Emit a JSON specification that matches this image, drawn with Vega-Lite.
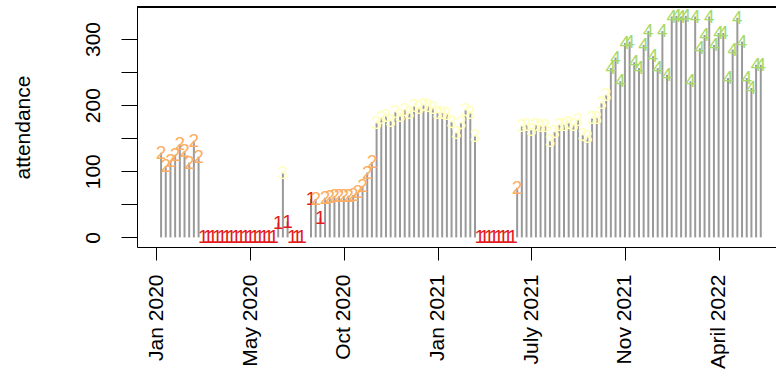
{
  "$schema": "https://vega.github.io/schema/vega-lite/v6.json",
  "width": 639,
  "height": 240,
  "autosize": {"type": "none"},
  "padding": {"left": 137, "top": 7, "right": 0, "bottom": 126},
  "background": "white",
  "config": {"view": {"stroke": null}, "font": "Liberation Sans"},
  "data": {
    "values": [
      {"idx": 1, "value": 128, "cat": "2"},
      {"idx": 2, "value": 108, "cat": "2"},
      {"idx": 3, "value": 116, "cat": "2"},
      {"idx": 4, "value": 125, "cat": "2"},
      {"idx": 5, "value": 141, "cat": "2"},
      {"idx": 6, "value": 130, "cat": "2"},
      {"idx": 7, "value": 113, "cat": "2"},
      {"idx": 8, "value": 146, "cat": "2"},
      {"idx": 9, "value": 122, "cat": "2"},
      {"idx": 10, "value": 0, "cat": "1"},
      {"idx": 11, "value": 0, "cat": "1"},
      {"idx": 12, "value": 0, "cat": "1"},
      {"idx": 13, "value": 0, "cat": "1"},
      {"idx": 14, "value": 0, "cat": "1"},
      {"idx": 15, "value": 0, "cat": "1"},
      {"idx": 16, "value": 0, "cat": "1"},
      {"idx": 17, "value": 0, "cat": "1"},
      {"idx": 18, "value": 0, "cat": "1"},
      {"idx": 19, "value": 0, "cat": "1"},
      {"idx": 20, "value": 0, "cat": "1"},
      {"idx": 21, "value": 0, "cat": "1"},
      {"idx": 22, "value": 0, "cat": "1"},
      {"idx": 23, "value": 0, "cat": "1"},
      {"idx": 24, "value": 0, "cat": "1"},
      {"idx": 25, "value": 0, "cat": "1"},
      {"idx": 26, "value": 22, "cat": "1"},
      {"idx": 27, "value": 97, "cat": "3"},
      {"idx": 28, "value": 24, "cat": "1"},
      {"idx": 29, "value": 0, "cat": "1"},
      {"idx": 30, "value": 0, "cat": "1"},
      {"idx": 31, "value": 0, "cat": "1"},
      {"idx": 33, "value": 58, "cat": "1"},
      {"idx": 34, "value": 58, "cat": "2"},
      {"idx": 35, "value": 30, "cat": "1"},
      {"idx": 36, "value": 60, "cat": "2"},
      {"idx": 37, "value": 61, "cat": "2"},
      {"idx": 38, "value": 62, "cat": "2"},
      {"idx": 39, "value": 62, "cat": "2"},
      {"idx": 40, "value": 63, "cat": "2"},
      {"idx": 41, "value": 63, "cat": "2"},
      {"idx": 42, "value": 64, "cat": "2"},
      {"idx": 43, "value": 68, "cat": "2"},
      {"idx": 44, "value": 78, "cat": "2"},
      {"idx": 45, "value": 98, "cat": "2"},
      {"idx": 46, "value": 114, "cat": "2"},
      {"idx": 47, "value": 173, "cat": "3"},
      {"idx": 48, "value": 180, "cat": "3"},
      {"idx": 49, "value": 183, "cat": "3"},
      {"idx": 50, "value": 176, "cat": "3"},
      {"idx": 51, "value": 190, "cat": "3"},
      {"idx": 52, "value": 183, "cat": "3"},
      {"idx": 53, "value": 193, "cat": "3"},
      {"idx": 54, "value": 188, "cat": "3"},
      {"idx": 55, "value": 198, "cat": "3"},
      {"idx": 56, "value": 196, "cat": "3"},
      {"idx": 57, "value": 200, "cat": "3"},
      {"idx": 58, "value": 198, "cat": "3"},
      {"idx": 59, "value": 196, "cat": "3"},
      {"idx": 60, "value": 188, "cat": "3"},
      {"idx": 61, "value": 188, "cat": "3"},
      {"idx": 62, "value": 186, "cat": "3"},
      {"idx": 63, "value": 175, "cat": "3"},
      {"idx": 64, "value": 158, "cat": "3"},
      {"idx": 65, "value": 173, "cat": "3"},
      {"idx": 66, "value": 193, "cat": "3"},
      {"idx": 67, "value": 188, "cat": "3"},
      {"idx": 68, "value": 153, "cat": "3"},
      {"idx": 69, "value": 0, "cat": "1"},
      {"idx": 70, "value": 0, "cat": "1"},
      {"idx": 71, "value": 0, "cat": "1"},
      {"idx": 72, "value": 0, "cat": "1"},
      {"idx": 73, "value": 0, "cat": "1"},
      {"idx": 74, "value": 0, "cat": "1"},
      {"idx": 75, "value": 0, "cat": "1"},
      {"idx": 76, "value": 0, "cat": "1"},
      {"idx": 77, "value": 75, "cat": "2"},
      {"idx": 78, "value": 168, "cat": "3"},
      {"idx": 79, "value": 170, "cat": "3"},
      {"idx": 80, "value": 163, "cat": "3"},
      {"idx": 81, "value": 170, "cat": "3"},
      {"idx": 82, "value": 168, "cat": "3"},
      {"idx": 83, "value": 168, "cat": "3"},
      {"idx": 84, "value": 146, "cat": "3"},
      {"idx": 85, "value": 160, "cat": "3"},
      {"idx": 86, "value": 170, "cat": "3"},
      {"idx": 87, "value": 170, "cat": "3"},
      {"idx": 88, "value": 173, "cat": "3"},
      {"idx": 89, "value": 170, "cat": "3"},
      {"idx": 90, "value": 178, "cat": "3"},
      {"idx": 91, "value": 155, "cat": "3"},
      {"idx": 92, "value": 152, "cat": "3"},
      {"idx": 93, "value": 180, "cat": "3"},
      {"idx": 94, "value": 181, "cat": "3"},
      {"idx": 95, "value": 203, "cat": "3"},
      {"idx": 96, "value": 215, "cat": "3"},
      {"idx": 97, "value": 256, "cat": "4"},
      {"idx": 98, "value": 272, "cat": "4"},
      {"idx": 99, "value": 236, "cat": "4"},
      {"idx": 100, "value": 294, "cat": "4"},
      {"idx": 101, "value": 296, "cat": "4"},
      {"idx": 102, "value": 265, "cat": "4"},
      {"idx": 103, "value": 256, "cat": "4"},
      {"idx": 104, "value": 291, "cat": "4"},
      {"idx": 105, "value": 312, "cat": "4"},
      {"idx": 106, "value": 274, "cat": "4"},
      {"idx": 107, "value": 256, "cat": "4"},
      {"idx": 108, "value": 312, "cat": "4"},
      {"idx": 109, "value": 246, "cat": "4"},
      {"idx": 110, "value": 334, "cat": "4"},
      {"idx": 111, "value": 335, "cat": "4"},
      {"idx": 112, "value": 334, "cat": "4"},
      {"idx": 113, "value": 335, "cat": "4"},
      {"idx": 114, "value": 236, "cat": "4"},
      {"idx": 115, "value": 334, "cat": "4"},
      {"idx": 116, "value": 286, "cat": "4"},
      {"idx": 117, "value": 306, "cat": "4"},
      {"idx": 118, "value": 334, "cat": "4"},
      {"idx": 119, "value": 291, "cat": "4"},
      {"idx": 120, "value": 309, "cat": "4"},
      {"idx": 121, "value": 309, "cat": "4"},
      {"idx": 122, "value": 241, "cat": "4"},
      {"idx": 123, "value": 284, "cat": "4"},
      {"idx": 124, "value": 332, "cat": "4"},
      {"idx": 125, "value": 296, "cat": "4"},
      {"idx": 126, "value": 241, "cat": "4"},
      {"idx": 127, "value": 226, "cat": "4"},
      {"idx": 128, "value": 261, "cat": "4"},
      {"idx": 129, "value": 261, "cat": "4"}
    ]
  },
  "encoding": {
    "x": {
      "field": "idx", "type": "quantitative",
      "scale": {"domain": [-4.14, 132.25], "nice": false, "zero": false},
      "axis": {
        "values": [0, 20, 40, 60, 80, 100, 120],
        "labelExpr": "datum.value == 0 ? 'Jan 2020' : datum.value == 20 ? 'May 2020' : datum.value == 40 ? 'Oct 2020' : datum.value == 60 ? 'Jan 2021' : datum.value == 80 ? 'July 2021' : datum.value == 100 ? 'Nov 2021' : 'April 2022'",
        "labelAngle": 270, "labelAlign": "right", "labelBaseline": "middle",
        "labelFontSize": 21, "labelColor": "#000", "labelPadding": 14,
        "tickSize": 13, "tickColor": "#000", "tickWidth": 1,
        "domainColor": "#000", "domainWidth": 1,
        "grid": false, "title": null, "labelOverlap": false, "labelFlush": false, "labelBound": false
      }
    },
    "y": {
      "field": "value", "type": "quantitative",
      "scale": {"domain": [-14.5, 348.4], "nice": false, "zero": false},
      "axis": {
        "values": [0, 50, 100, 150, 200, 250, 300],
        "labelExpr": "datum.value % 100 == 0 ? datum.label : ''",
        "labelAngle": 270, "labelAlign": "center", "labelBaseline": "alphabetic",
        "labelFontSize": 21, "labelColor": "#000", "labelPadding": 22,
        "tickSize": 16, "tickColor": "#000", "tickWidth": 1,
        "domainColor": "#000", "domainWidth": 1,
        "grid": false, "title": "attendance", "titleFontSize": 21,
        "titleFontWeight": "normal", "titleColor": "#000", "titlePadding": 49,
        "labelOverlap": false, "labelFlush": false
      }
    }
  },
  "layer": [
    {
      "mark": {"type": "rule", "color": "#9a9a9a", "strokeWidth": 2},
      "encoding": {"y2": {"datum": 0}}
    },
    {
      "mark": {"type": "text", "fontSize": 19, "align": "center", "baseline": "middle", "font": "Liberation Sans"},
      "encoding": {
        "text": {"field": "cat", "type": "nominal"},
        "color": {
          "field": "cat", "type": "nominal",
          "scale": {"domain": ["1", "2", "3", "4"], "range": ["#e31a1c", "#fdae61", "#ffffbf", "#a6d96a"]},
          "legend": null
        }
      }
    },
    {
      "mark": {"type": "rule", "color": "#000", "strokeWidth": 1},
      "encoding": {"x": null, "y": {"datum": 348.4}}
    }
  ]
}
